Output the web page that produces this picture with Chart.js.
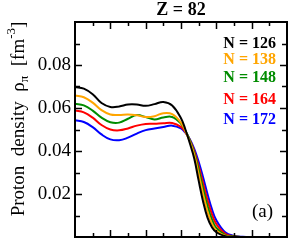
<!DOCTYPE html>
<html>
<head>
<meta charset="utf-8">
<script src="https://cdn.jsdelivr.net/npm/chart.js@4"></script>
<style>
  html, body { margin: 0; padding: 0; background: #fff; }
  #wrap { width: 289px; height: 240px; }
</style>
</head>
<body>
<div id="wrap"><canvas id="densityChart" width="289" height="240"></canvas></div>
<script>
(function () {
    "use strict";

    // radius in fm
    var radius = [0, 0.5, 1, 1.5, 2, 2.5, 3, 3.5, 4, 4.5, 5, 5.5, 6, 6.25, 6.5, 6.75, 7, 7.25, 7.5, 7.75, 8, 8.5, 9, 9.5, 10, 11, 12];

    // proton density, fm^-3
    var n126 = [0.0698, 0.0690, 0.0664, 0.0623, 0.0605, 0.0607, 0.0616, 0.0616, 0.0610, 0.0618, 0.0628, 0.0612, 0.0552, 0.0500, 0.0436, 0.0365, 0.0262, 0.0165, 0.0090, 0.0045, 0.0022, 0.0004, 0.0001, 0, 0, 0, 0];
    var n138 = [0.0658, 0.0650, 0.0625, 0.0590, 0.0570, 0.0568, 0.0570, 0.0566, 0.0558, 0.0562, 0.0576, 0.0572, 0.0532, 0.0492, 0.0443, 0.0382, 0.0293, 0.0200, 0.0118, 0.0062, 0.0030, 0.0006, 0.0001, 0, 0, 0, 0];
    var n148 = [0.0620, 0.0612, 0.0588, 0.0555, 0.0534, 0.0532, 0.0550, 0.0567, 0.0558, 0.0547, 0.0556, 0.0558, 0.0527, 0.0494, 0.0450, 0.0392, 0.0313, 0.0226, 0.0145, 0.0082, 0.0042, 0.0009, 0.0002, 0, 0, 0, 0];
    var n164 = [0.0589, 0.0580, 0.0555, 0.0521, 0.0500, 0.0496, 0.0505, 0.0518, 0.0526, 0.0527, 0.0529, 0.0530, 0.0512, 0.0488, 0.0452, 0.0400, 0.0330, 0.0250, 0.0172, 0.0106, 0.0060, 0.0015, 0.0003, 0, 0, 0, 0];
    var n172 = [0.0543, 0.0535, 0.0511, 0.0477, 0.0454, 0.0450, 0.0462, 0.0481, 0.0497, 0.0505, 0.0512, 0.0518, 0.0505, 0.0485, 0.0455, 0.0410, 0.0350, 0.0278, 0.0200, 0.0130, 0.0078, 0.0022, 0.0005, 0.0001, 0, 0, 0];

    var seriesLabels = ["N = 126", "N = 138", "N = 148", "N = 164", "N = 172"];
    var seriesColors = ["#000000", "#ffa500", "#008c00", "#ff0000", "#0000ff"];
    var yTickValues = [0.02, 0.04, 0.06, 0.08];
    var yTickLabels = ["0.02", "0.04", "0.06", "0.08"];
    var chartTitle = "Z = 82";
    var panelTag = "(a)";

    var serif = "'Liberation Serif', 'Times New Roman', serif";

    function pts(vals) {
        return radius.map(function (r, i) { return { x: r, y: vals[i] }; });
    }

    var allSeries = [n126, n138, n148, n164, n172];
    var datasets = allSeries.map(function (vals, i) {
        return {
            label: seriesLabels[i],
            data: pts(vals),
            borderColor: seriesColors[i],
            borderWidth: 2,
            pointRadius: 0,
            fill: false,
            tension: 0.4
        };
    });

    // frame, inward ticks, labels, title, legend
    var decorations = {
        id: "decorations",
        afterDatasetsDraw: function (chart) {
            var c = chart.ctx, a = chart.chartArea;
            var xs = chart.scales.x, ys = chart.scales.y;
            c.save();
            c.strokeStyle = "#000";

            // ticks
            c.lineWidth = 1.5;
            c.beginPath();
            for (var t = 1; t < 12; t++) {
                var px = Math.round(xs.getPixelForValue(t)) + 0.5;
                var len = (t % 2 === 0) ? 7 : 4;
                c.moveTo(px, a.bottom); c.lineTo(px, a.bottom - len);
                c.moveTo(px, a.top); c.lineTo(px, a.top + len);
            }
            for (var k = 1; k < 10; k++) {
                var py = Math.round(ys.getPixelForValue(k / 100)) + 0.5;
                var ylen = (k % 2 === 0) ? 7 : 5;
                c.moveTo(a.left, py); c.lineTo(a.left + ylen, py);
                c.moveTo(a.right, py); c.lineTo(a.right - ylen, py);
            }
            c.stroke();

            // frame
            c.lineWidth = 2;
            c.strokeRect(a.left, a.top, a.right - a.left, a.bottom - a.top);

            // y tick labels
            c.fillStyle = "#000";
            c.font = "19px " + serif;
            c.textAlign = "right";
            c.textBaseline = "middle";
            yTickValues.forEach(function (v, i) {
                c.fillText(yTickLabels[i], a.left - 4, ys.getPixelForValue(v));
            });

            // title
            c.font = "bold 18px " + serif;
            c.textAlign = "center";
            c.textBaseline = "alphabetic";
            c.fillText(chartTitle, (a.left + a.right) / 2, 15);

            // legend
            var legendY = [47.5, 63.5, 82, 103.5, 124];
            c.font = "bold 16px " + serif;
            c.textAlign = "right";
            chart.data.datasets.forEach(function (ds, i) {
                c.fillStyle = ds.borderColor;
                c.fillText(ds.label, 276, legendY[i]);
            });

            // panel tag
            c.fillStyle = "#000";
            c.font = "19px " + serif;
            c.fillText(panelTag, 273, 217);

            // y axis title
            c.translate(24, 0);
            c.rotate(-Math.PI / 2);
            var parts = [
                { t: "Proton  density  \u03c1", f: "19px " + serif, dy: 0 },
                { t: "\u03c0", f: "13px " + serif, dy: 4 },
                { t: "  [fm", f: "19px " + serif, dy: 0 },
                { t: "-3", f: "13px " + serif, dy: -9 },
                { t: "]", f: "19px " + serif, dy: 0 }
            ];
            var total = 0;
            parts.forEach(function (p) { c.font = p.f; p.w = c.measureText(p.t).width; total += p.w; });
            var sx = -119 - total / 2;
            c.textAlign = "left";
            parts.forEach(function (p) {
                c.font = p.f;
                c.fillText(p.t, sx, p.dy);
                sx += p.w;
            });
            c.restore();
        }
    };

    new Chart(document.getElementById("densityChart"), {
        type: "line",
        data: { datasets: datasets },
        options: {
            responsive: false,
            animation: false,
            layout: { padding: { left: 75, top: 22, right: 2, bottom: 3 } },
            plugins: { legend: { display: false }, tooltip: { enabled: false } },
            scales: {
                x: { type: "linear", min: 0, max: 12, display: false },
                y: { min: 0, max: 0.1, display: false }
            }
        },
        plugins: [decorations]
    });
})();
</script>
</body>
</html>
